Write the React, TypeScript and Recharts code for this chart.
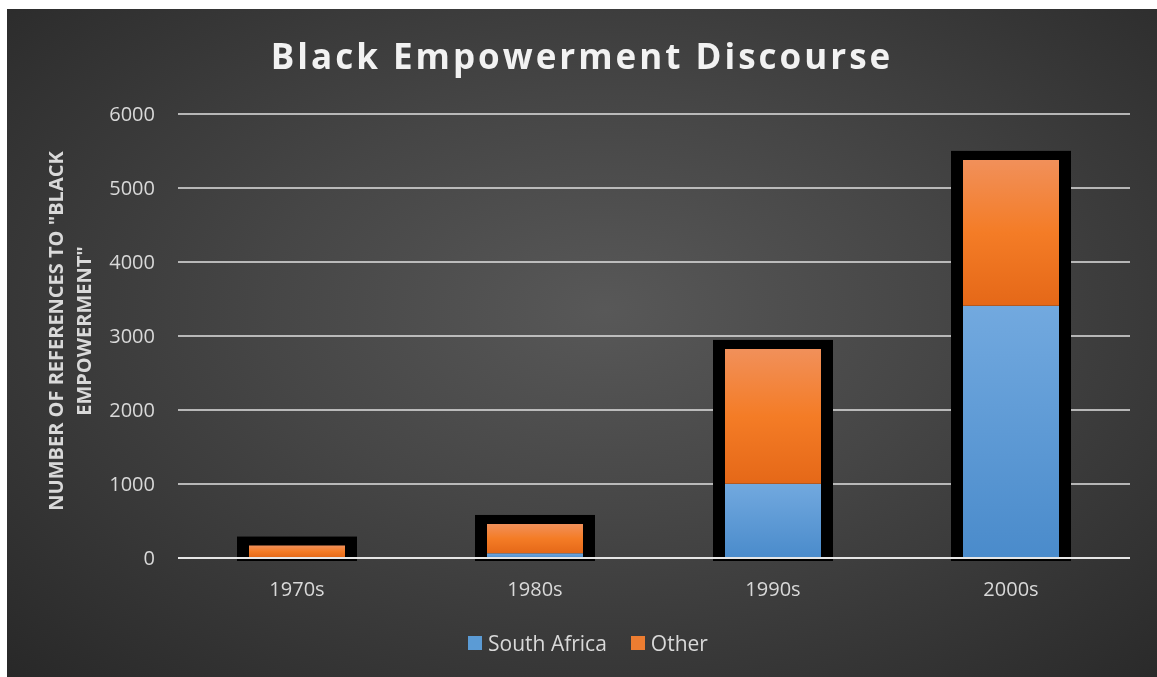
import {
  BarChart,
  Bar,
  XAxis,
  YAxis,
  CartesianGrid,
  Legend,
  ReferenceLine,
} from "recharts";

const decades = ["1970s", "1980s", "1990s", "2000s"];
const southAfrica = [8, 65, 1005, 3410];
const other = [160, 395, 1820, 1970];
const yTicks = [0, 1000, 2000, 3000, 4000, 5000, 6000];
const seriesNames = ["South Africa", "Other"];
const legendColors = ["#5b9bd5", "#ed7d31"];

const data = decades.map((d, i) => ({
  decade: d,
  sa: southAfrica[i],
  other: other[i],
  total: southAfrica[i] + other[i],
}));

const FONT = "'Open Sans', sans-serif";

function OutlineShape(props: any) {
  const { x, y, width, height } = props;
  return <rect x={x} y={y - 9} width={width} height={height + 12} fill="#000" />;
}

function AxisTitle(props: any) {
  const vb = props.viewBox || {};
  const cy = vb.y + vb.height / 2 - 5;
  return (
    <g>
      <text
        x={48}
        y={cy}
        transform={`rotate(-90 48 ${cy})`}
        textAnchor="middle"
        dominantBaseline="central"
        fill="#d9d9d9"
        fontWeight="bold"
        fontSize={20}
        fontFamily={FONT}
      >
        NUMBER OF REFERENCES TO "BLACK
      </text>
      <text
        x={76}
        y={cy}
        transform={`rotate(-90 76 ${cy})`}
        textAnchor="middle"
        dominantBaseline="central"
        fill="#d9d9d9"
        fontWeight="bold"
        fontSize={20}
        fontFamily={FONT}
      >
        EMPOWERMENT"
      </text>
    </g>
  );
}

function LegendBox() {
  return (
    <div
      style={{
        display: "flex",
        justifyContent: "center",
        gap: 24,
        fontFamily: FONT,
        marginTop: 1,
        paddingLeft: 39,
      }}
    >
      {seriesNames.map((name, i) => (
        <div key={name} style={{ display: "flex", alignItems: "center", gap: 6 }}>
          <div style={{ width: 14, height: 14, background: legendColors[i] }} />
          <span style={{ color: "#d9d9d9", fontSize: 21 }}>{name}</span>
        </div>
      ))}
    </div>
  );
}

export default function App() {
  return (
    <div
      style={{
        position: "fixed",
        left: 7,
        top: 9,
        width: 1150,
        height: 668,
        background: "radial-gradient(ellipse at 52% 45%, #585858 0%, #464646 40%, #282828 100%)",
        fontFamily: FONT,
      }}
    >
      <div
        style={{
          position: "absolute",
          top: 23,
          left: 0,
          width: 1150,
          textAlign: "center",
          color: "#f2f2f2",
          fontSize: 35,
          fontWeight: "bold",
          letterSpacing: 3,
        }}
      >
        Black Empowerment Discourse
      </div>
      <BarChart
        width={1150}
        height={668}
        data={data}
        margin={{ top: 105, right: 27, left: 0, bottom: 19 }}
      >
        <defs>
          <linearGradient id="gradSA" x1="0" y1="0" x2="0" y2="1">
            <stop offset="0%" stopColor="#72a9df" />
            <stop offset="100%" stopColor="#4a8bcb" />
          </linearGradient>
          <linearGradient id="gradOther" x1="0" y1="0" x2="0" y2="1">
            <stop offset="0%" stopColor="#f1905a" />
            <stop offset="50%" stopColor="#f47c26" />
            <stop offset="100%" stopColor="#e56818" />
          </linearGradient>
        </defs>
        <CartesianGrid vertical={false} stroke="#e0e0e0" strokeWidth={1.5} />
        <XAxis
          dataKey="decade"
          height={70}
          axisLine={false}
          tickLine={false}
          tickSize={0}
          tickMargin={24}
          tick={{ fill: "#d9d9d9", fontSize: 20, fontFamily: FONT }}
        />
        <XAxis xAxisId="bg" dataKey="decade" hide />
        <YAxis
          width={171}
          domain={[0, 6000]}
          ticks={yTicks}
          axisLine={false}
          tickLine={false}
          tickSize={0}
          tickMargin={23}
          tick={{ fill: "#d9d9d9", fontSize: 20, fontFamily: FONT }}
          label={{ content: AxisTitle }}
        />
        <Legend verticalAlign="bottom" height={30} content={LegendBox} />
        <Bar
          xAxisId="bg"
          dataKey="total"
          barSize={120}
          shape={OutlineShape}
          legendType="none"
          isAnimationActive={false}
        />
        <Bar dataKey="sa" name="South Africa" stackId="a" barSize={96} fill="url(#gradSA)" isAnimationActive={false} />
        <Bar dataKey="other" name="Other" stackId="a" barSize={96} fill="url(#gradOther)" isAnimationActive={false} />
        <ReferenceLine y={0} stroke="#e6e6e6" strokeWidth={2} />
      </BarChart>
    </div>
  );
}
